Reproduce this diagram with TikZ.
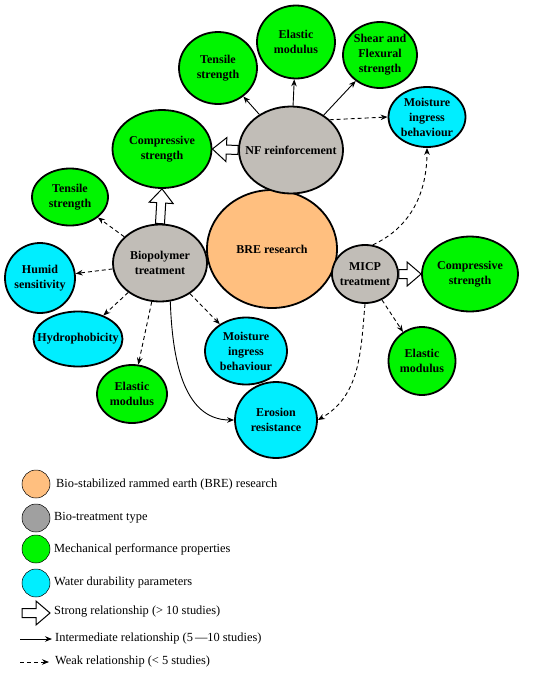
\documentclass[tikz,border=0pt]{standalone}
\usepackage{fontspec}
\setmainfont{Liberation Serif}
\usetikzlibrary{positioning,calc,arrows.meta,shapes.geometric}

\definecolor{breorange}{HTML}{FFBF7F}
\definecolor{typegray}{HTML}{C1BDB7}
\definecolor{legendgray}{HTML}{A0A0A0}
\definecolor{mechgreen}{HTML}{00F500}
\definecolor{watercyan}{HTML}{00EEFF}

\tikzset{
	bubble/.style={ellipse, draw=black, line width=1.8pt, inner xsep=-20pt, inner ysep=-12pt,
		align=center, font=\fontsize{12}{15}\selectfont\bfseries},
	bre/.style={bubble, fill=breorange},
	btype/.style={bubble, fill=typegray},
	mech/.style={bubble, fill=mechgreen},
	water/.style={bubble, fill=watercyan},
	inter/.style={-{Stealth[length=7pt,width=5.5pt]}, line width=0.9pt},
	weak/.style={inter, dash pattern=on 4pt off 3pt},
	strong/.style={draw=black, fill=white, line width=1pt, line join=miter},
	keydot/.style={circle, draw=black, line width=0.5pt, minimum size=28pt, inner sep=0pt},
	keytext/.style={anchor=west, inner sep=0pt, font=\fontsize{12.4}{14}\selectfont}
}

% hollow block arrow from #1 to #2
\newcommand{\strongarrow}[2]{%
	\coordinate (sabase) at ($(#2)!14pt!(#1)$);
	\draw[strong] ($(#1)!4.5pt!90:(#2)$) -- ($(sabase)!4.5pt!90:(#2)$) -- ($(sabase)!12pt!90:(#2)$)
		-- (#2) -- ($(sabase)!12pt!-90:(#2)$) -- ($(sabase)!4.5pt!-90:(#2)$) -- ($(#1)!4.5pt!-90:(#2)$) -- cycle;}

\begin{document}
\begin{tikzpicture}[x=1pt, y=-1pt]
	\fill[white] (0,0) rectangle (550,678);
	\useasboundingbox (0,0) rectangle (550,678);

	\node[bre, minimum width=130pt, minimum height=118pt] (bre) at (272, 249) {BRE research};

	% bio-treatment types
	\node[btype, minimum width=104pt, minimum height=87pt] (nf) at (291, 150) {NF reinforcement};
	\node[btype, minimum width=94pt, minimum height=77pt] (bio) at (160, 263) {Biopolymer\\treatment};
	\node[btype, minimum width=66pt, minimum height=58pt] (micp) at (365, 274) {MICP\\treatment};

	% NF reinforcement
	\node[mech, minimum width=78pt, minimum height=72pt] (tensnf) at (218, 68) {Tensile\\strength};
	\node[mech, minimum width=78pt, minimum height=73pt] (elasnf) at (296, 42) {Elastic\\modulus};
	\node[mech, minimum width=74pt, minimum height=66pt] (shear) at (380, 55) {Shear and\\Flexural\\strength};
	\node[water, minimum width=77pt, minimum height=60pt] (moistnf) at (427, 117) {Moisture\\ingress\\behaviour};
	\node[mech, minimum width=99pt, minimum height=78pt] (compnf) at (162, 149) {Compressive\\strength};

	% biopolymer treatment
	\node[mech, minimum width=76pt, minimum height=57pt] (tensbio) at (70, 197) {Tensile\\strength};
	\node[water, minimum width=70pt, minimum height=70pt] (humid) at (40, 278) {Humid\\sensitivity};
	\node[water, minimum width=89pt, minimum height=55pt] (hydro) at (78, 339) {Hydrophobicity};
	\node[mech, minimum width=70pt, minimum height=58pt] (elasbio) at (132, 394) {Elastic\\modulus};
	\node[water, minimum width=82pt, minimum height=67pt] (moistbio) at (246, 351) {Moisture\\ingress\\behaviour};
	\node[water, minimum width=82pt, minimum height=76pt] (erosion) at (276, 420) {Erosion\\resistance};

	% MICP treatment
	\node[mech, minimum width=96pt, minimum height=75pt] (compmicp) at (470, 274) {Compressive\\strength};
	\node[mech, minimum width=67pt, minimum height=68pt] (elasmicp) at (422, 361) {Elastic\\modulus};

	\draw[inter] (nf) -- (tensnf);
	\draw[inter] (nf) -- (elasnf);
	\draw[inter] (nf) -- (shear);
	\draw[weak] (nf.38) -- (moistnf.west);
	\strongarrow{nf.west}{compnf.east}

	\strongarrow{bio.north}{compnf.south}
	\draw[weak] (bio) -- (tensbio);
	\draw[weak] (bio) -- (humid);
	\draw[weak] (bio) -- (hydro);
	\draw[weak] (bio) -- (elasbio);
	\draw[weak] (bio) -- (moistbio);
	\draw[inter] (bio.-75) to[out=-88, in=180] (erosion.west);

	\strongarrow{micp.east}{compmicp.west}
	\draw[weak] (micp) -- (elasmicp);
	\draw[weak] (micp.south) to[out=-95, in=30] (erosion.east);
	\draw[weak] (micp.75) to[out=25, in=-90] (moistnf.south);

	% legend
	\node[keydot, fill=breorange] (k1) at (36, 484) {};
	\node[keydot, fill=legendgray] (k2) at (36, 518) {};
	\node[keydot, fill=mechgreen] (k3) at (36, 549) {};
	\node[keydot, fill=watercyan] (k4) at (36, 583) {};
	\node[keytext] at (56, 485) {Bio-stabilized rammed earth (BRE) research};
	\node[keytext] at (54, 518) {Bio-treatment type};
	\node[keytext] at (54, 549) {Mechanical performance properties};
	\node[keytext] at (54, 583) {Water durability parameters};

	\coordinate (s1) at (22, 613);
	\coordinate (s2) at (50, 613);
	\coordinate (i1) at (20, 639);
	\coordinate (i2) at (52, 639);
	\coordinate (w1) at (20, 662);
	\coordinate (w2) at (49, 662);
	\strongarrow{s1}{s2}
	\draw[inter] (i1) -- (i2);
	\draw[weak] (w1) -- (w2);
	\node[keytext] at (54, 612) {Strong relationship (> 10 studies)};
	\node[keytext] at (55, 639) {Intermediate relationship (5\,\textemdash10 studies)};
	\node[keytext] at (55, 662) {Weak relationship (< 5 studies)};
\end{tikzpicture}
\end{document}
